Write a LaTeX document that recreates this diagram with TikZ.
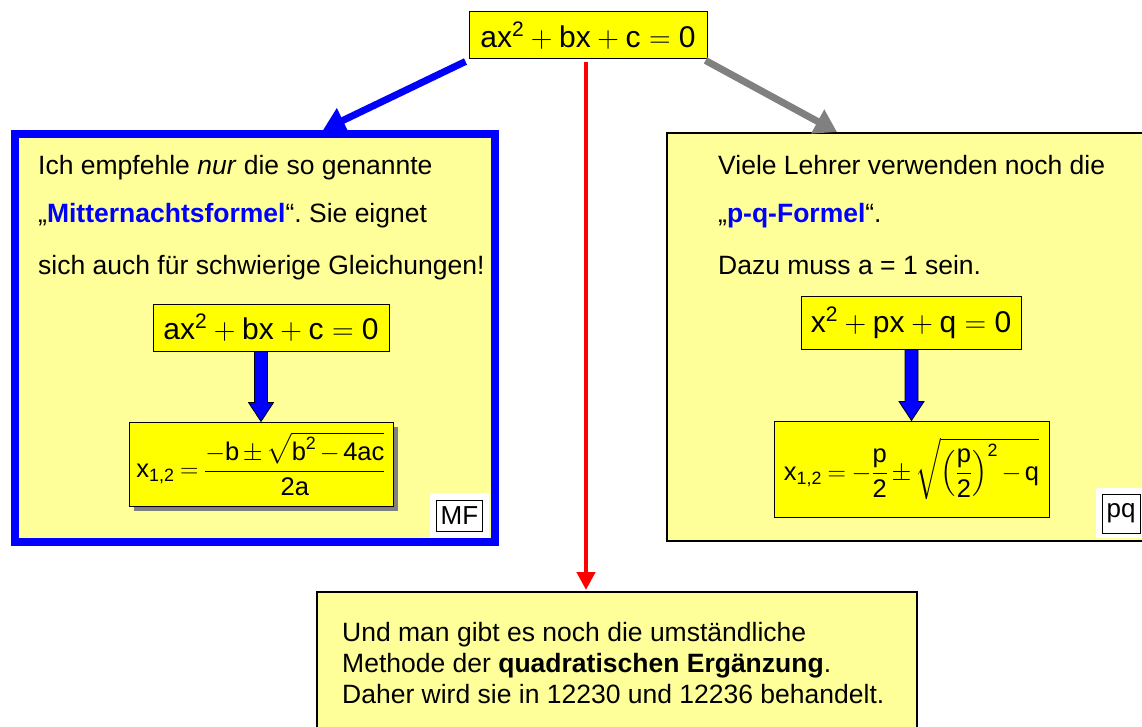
\documentclass[tikz,border=0pt]{standalone}
\usepackage{fix-cm}
\usepackage{amsmath,amssymb}
\usepackage{fontspec}
\setmainfont{Liberation Sans}
\usetikzlibrary{arrows.meta,positioning,calc,shadows}
\definecolor{Sun}{HTML}{FFFF00}
\definecolor{Pale}{HTML}{FFFF99}
\definecolor{Blue}{HTML}{0000FF}
\definecolor{Red}{HTML}{FF0000}
\definecolor{Grey}{HTML}{808080}
\newcommand{\tv}[1]{\text{#1}}
\newcommand{\tightmath}{\medmuskip=2.5mu\relax\thickmuskip=4mu\relax}
\frenchspacing

\begin{document}
\begin{tikzpicture}[x=1pt,y=-1pt,
    panel/.style={fill=Pale,inner sep=0pt},
    eq/.style={draw=black,line width=1pt,fill=Sun,inner sep=0pt,
      font=\fontsize{30}{34}\selectfont},
    sol/.style={eq,font=\fontsize{25.5}{30}\selectfont\tightmath},
    line/.style={anchor=base west,inner sep=0pt,font=\fontsize{26.5}{31}\selectfont},
    tag/.style={draw=black,line width=0.8pt,fill=white,inner sep=0pt,
      font=\fontsize{26}{30}\selectfont},
    pad/.style={fill=white,inner sep=0pt},
    fat/.style={fill=Blue,draw=black,line width=0.8pt},
    link/.style={line width=7pt}
  ]
  \useasboundingbox (0,0) rectangle (1142,727);
  \clip (0,0) rectangle (1142,727);

  \node[panel,draw=Blue,line width=8pt,minimum width=480pt,minimum height=408pt] (mf) at (255,338) {};
  \node[panel,draw=black,line width=2pt,minimum width=484pt,minimum height=408pt] (pq) at (909,337) {};
  \node[panel,draw=black,line width=2pt,minimum width=600pt,minimum height=150pt] (qe) at (617,667) {};

  \node[eq,minimum width=238pt,minimum height=47pt] (top) at (588,35.5)
    {$\tv{ax}^{\tv{2}}+\tv{bx}+\tv{c}=\tv{0}$};

  \draw[link,Blue,-{Triangle[length=22pt,width=26pt]}] ([xshift=-3pt,yshift=-2pt]top.south west) -- ([xshift=68pt]mf.north);
  \draw[link,Grey,-{Triangle[length=22pt,width=26pt]}] ([xshift=-2pt,yshift=-1pt]top.south east) -- ([xshift=-72pt]pq.north);
  \draw[Red,line width=4.5pt,-{Triangle[length=18pt,width=18pt]}] ([xshift=-2pt,yshift=-3pt]top.south) -- ($(top.south |- qe.north)+(-2,-1)$);

  \node[line] (mf1) at (38,175) {Ich empfehle \textit{nur} die so genannte};
  \node[line] (mf2) at (38,223) {„\textcolor{Blue}{\textbf{Mitternachtsformel}}“. Sie eignet};
  \node[line] (mf3) at (38,274) {sich auch für schwierige Gleichungen!};
  \node[eq,minimum width=236pt,minimum height=47pt] (mfeq) at (271,327.5)
    {$\tv{ax}^{\tv{2}}+\tv{bx}+\tv{c}=\tv{0}$};
  \node[sol,minimum width=264pt,minimum height=84pt,
    drop shadow={shadow xshift=5pt,shadow yshift=-5pt,fill=Grey,opacity=1}] (mfsol) at (261,464)
    {$\tv{x}_{\tv{1,2}}=\dfrac{-\tv{b}\pm\sqrt{\tv{b}^{\tv{2}}-\tv{4ac}}}{\tv{2a}}$};
  \node[pad,minimum width=59pt,minimum height=45pt] (mfpad) at (459.5,515.5) {};
  \node[tag,minimum width=46pt,minimum height=31pt] (mftag) at (mfpad) {MF};

  \node[line] (pq1) at (718,175) {Viele Lehrer verwenden noch die};
  \node[line] (pq2) at (718,223) {„\textcolor{Blue}{\textbf{p-q-Formel}}“.};
  \node[line] (pq3) at (718,274) {Dazu muss a = 1 sein.};
  \node[eq,minimum width=220pt,minimum height=53pt] (pqeq) at (911,322.5)
    {$\tv{x}^{\tv{2}}+\tv{px}+\tv{q}=\tv{0}$};
  \node[sol,minimum width=275pt,minimum height=96pt] (pqsol) at (911.5,469)
    {$\tv{x}_{\tv{1,2}}=-\dfrac{\tv{p}}{\tv{2}}\pm\sqrt{\left(\dfrac{\tv{p}}{\tv{2}}\right)^{\tv{2}}-\tv{q}}$};
  \node[pad,minimum width=50pt,minimum height=50pt] (pqpad) at (1121,513) {};
  \node[tag,minimum width=38pt,minimum height=39pt] (pqtag) at (1121,513.5) {pq};

  \foreach \a/\b in {mfeq/mfsol,pqeq/pqsol}
    \draw[fat] (\b.north) -- ++(-12.5,-19) -- ++(6,0) -- ($(\b.north |- \a.south)+(-6.5,0)$)
      -- ++(13,0) -- ($(\b.north)+(6.5,-19)$) -- ++(6,0) -- cycle;

  \node[line] (qe1) at (342,641) {Und man gibt es noch die umständliche};
  \node[line] (qe2) at (342,672) {Methode der \textbf{quadratischen Ergänzung}.};
  \node[line] (qe3) at (342,703) {Daher wird sie in 12230 und 12236 behandelt.};
\end{tikzpicture}
\end{document}
